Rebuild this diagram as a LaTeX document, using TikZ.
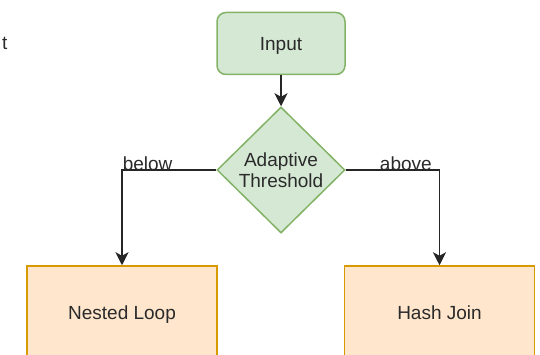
\documentclass[tikz,border=0pt]{standalone}
\usepackage{fontspec}
\setmainfont{Liberation Sans}
\usetikzlibrary{shapes.geometric,arrows.meta}
\definecolor{gfill}{HTML}{D5E8D4}
\definecolor{gline}{HTML}{82B366}
\definecolor{ofill}{HTML}{FFE6CC}
\definecolor{oline}{HTML}{D79B00}
\definecolor{txt}{HTML}{2A2A2A}
\tikzset{
  base/.style={font=\fontsize{19}{22}\selectfont, text=txt, line width=1.5pt, inner sep=0pt},
  startbox/.style={base, draw=gline, fill=gfill, rounded corners=9pt, minimum width=128pt, minimum height=62pt, text height=13.6pt, text depth=0pt},
  decision/.style={base, draw=gline, fill=gfill, diamond, aspect=1.016, minimum width=128pt, minimum height=126pt, align=center},
  algbox/.style={base, draw=oline, fill=ofill, minimum width=190pt, minimum height=94pt, text height=13.6pt, text depth=0pt},
  conn/.style={line width=1.5pt, draw=black!85, -{Stealth[length=13pt,width=13pt,inset=3.5pt]}},
  lbl/.style={font=\fontsize{19}{22}\selectfont, text=txt, inner sep=0pt},
}
\begin{document}
\begin{tikzpicture}[x=1pt,y=-1pt]
  \useasboundingbox (0,0) rectangle (540,355);
  \clip (0,0) rectangle (540,355);
  \node[lbl, anchor=base west] (t) at (2,50) {t};
  \node[startbox] (in) at (281,43.5) {Input};
  \node[decision] (d) at (281,170) {Adaptive\\[-1pt]Threshold};
  \node[algbox] (nl) at (122,313) {Nested Loop};
  \node[algbox] (hj) at (439.5,313) {Hash Join};
  \draw[conn] (in.south) -- (d.north);
  \draw[conn] (d.west) -| node[pos=0.5, lbl, anchor=base west, yshift=-1pt] {below} (nl.north);
  \draw[conn] (d.east) -| node[pos=0.5, lbl, anchor=base east, xshift=-7pt, yshift=-1pt] {above} (hj.north);
\end{tikzpicture}
\end{document}
